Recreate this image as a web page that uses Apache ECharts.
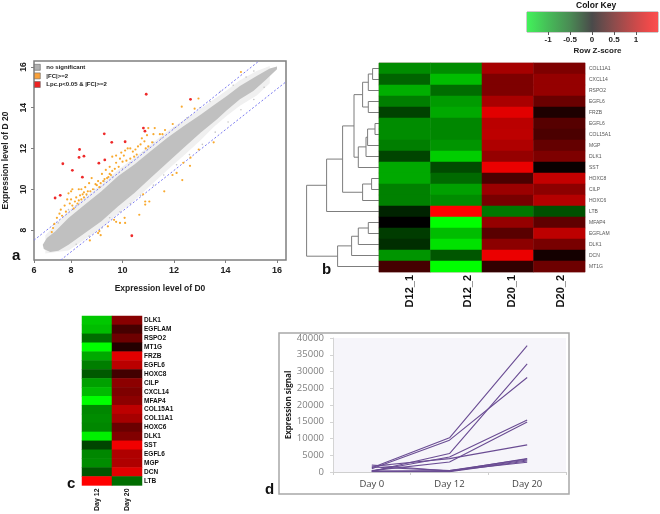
<!DOCTYPE html>
<html><head><meta charset="utf-8">
<style>html,body{margin:0;padding:0;background:#fff}#c{width:660px;height:514px;filter:blur(0.45px)}</style>
<script src="https://cdn.jsdelivr.net/npm/echarts@6/dist/echarts.min.js"></script>
</head><body><div id="c"></div>
<script>
// ---------- panel a : scatter ----------
const denseUpper = [[6.90,7.28],[7.06,7.61],[7.38,7.93],[7.90,8.59],[8.54,9.25],[9.18,9.90],[9.82,10.64],[10.46,11.21],[11.10,11.87],[11.74,12.52],[12.38,13.10],[13.03,13.65],[13.54,14.12],[14.05,14.57],[14.56,15.07],[15.21,15.56],[15.72,15.92],[16.0,16.02]];
const denseLower = [[16.0,15.89],[15.59,15.39],[15.08,14.82],[14.56,14.41],[14.05,13.88],[13.67,13.43],[13.03,12.77],[12.38,12.03],[11.74,11.30],[11.10,10.56],[10.46,9.82],[9.82,9.16],[9.18,8.43],[8.54,7.85],[7.90,7.28],[7.51,6.98],[7.19,6.92],[6.94,7.07]];
const fringeUpper = [[7.0,7.75],[7.9,8.95],[8.54,9.6],[9.18,10.25],[9.82,10.95],[10.46,11.55],[11.1,12.2],[11.74,12.85],[12.38,13.4],[13.03,13.95],[13.54,14.4],[14.05,14.85],[14.56,15.35],[15.21,15.8],[15.72,16.05]];
const fringeLower = [[15.72,15.2],[15.21,14.6],[14.56,14.1],[14.05,13.6],[13.54,13.05],[13.03,12.4],[12.38,11.65],[11.74,10.95],[11.1,10.2],[10.46,9.45],[9.82,8.8],[9.18,8.1],[8.54,7.55],[7.9,7.0],[7.0,6.85]];
const grayOutliers = [[7.5,8.35],[7.9,9.0],[8.2,9.2],[8.6,9.7],[8.9,10.0],[9.3,10.4],[9.6,10.6],[10.0,11.0],[10.3,11.3],[10.8,11.8],[11.2,12.3],[11.5,12.5],[12.0,13.0],[12.5,13.5],[13.0,14.0],[13.4,14.3],[13.8,14.8],[14.3,15.1],[14.8,15.5],[15.1,15.8],[8.2,7.3],[8.7,7.7],[9.2,8.1],[9.5,8.6],[9.9,8.9],[10.3,9.3],[10.7,9.7],[11.2,10.2],[11.6,10.7],[12.1,11.2],[12.6,11.7],[13.1,12.2],[13.6,12.8],[14.1,13.3],[14.6,13.9],[15.1,14.4],[15.5,15.0]];
const upperGuide = [[6.56,7.5],[15.3,16.29]];
const lowerGuide = [[7.6,6.53],[16.35,15.27]];
const orangePoints = [[7.25,7.9],[7.3,8.1],[7.35,8.3],[7.45,8.6],[7.55,8.8],[7.6,9.0],[7.65,8.7],[7.75,9.2],[7.8,8.9],[7.85,9.5],[7.9,9.8],[7.95,9.3],[8.0,9.5],[8.0,9.9],[8.05,9.2],[8.05,10.0],[8.1,9.05],[8.15,9.4],[8.2,9.6],[8.25,9.3],[8.3,9.45],[8.3,10.0],[8.35,9.7],[8.4,9.5],[8.4,10.0],[8.45,9.75],[8.5,9.6],[8.5,9.85],[8.55,10.1],[8.6,9.75],[8.65,9.9],[8.7,10.3],[8.75,9.9],[8.8,10.55],[8.85,10.0],[8.95,10.25],[9.0,10.2],[9.05,10.4],[9.1,10.1],[9.15,10.3],[9.2,10.75],[9.25,10.4],[9.3,10.5],[9.35,10.95],[9.4,10.55],[9.45,10.6],[9.5,10.75],[9.5,11.1],[9.55,10.7],[9.6,10.9],[9.6,11.6],[9.7,11.0],[9.75,11.3],[9.75,11.65],[9.85,11.1],[9.9,11.5],[9.95,11.8],[10.0,11.35],[10.05,11.65],[10.1,11.9],[10.15,11.4],[10.2,12.0],[10.3,12.0],[10.3,11.5],[10.4,11.85],[10.45,11.6],[10.5,11.95],[10.55,11.7],[10.6,12.1],[10.7,12.2],[10.75,12.5],[10.85,12.35],[10.9,12.0],[10.95,12.65],[11.0,12.1],[11.0,13.0],[11.15,12.3],[11.2,12.7],[11.25,13.0],[11.45,12.7],[11.55,12.7],[11.65,12.9],[11.95,13.2],[12.3,14.05],[12.8,13.95],[12.95,14.45],[14.6,15.75],[8.73,7.49],[9.05,7.85],[9.1,7.95],[9.15,7.75],[9.43,8.18],[9.67,8.5],[9.75,8.4],[9.9,8.35],[10.08,8.6],[10.1,8.35],[10.65,8.75],[10.88,9.4],[10.88,9.25],[11.04,9.4],[10.8,9.75],[11.62,9.9],[11.94,10.7],[12.1,10.8],[12.32,10.45],[12.36,11.3],[12.62,11.15],[12.64,11.55],[12.96,11.95],[13.54,12.3]];
const redPoints = [[7.38,9.57],[7.58,9.70],[7.68,11.25],[8.05,10.93],[8.33,11.95],[8.31,11.56],[8.50,11.62],[8.44,10.59],[9.08,11.28],[9.31,11.44],[9.29,12.72],[9.58,12.30],[10.10,12.33],[10.36,7.72],[10.81,13.0],[10.87,12.85],[10.92,14.66],[12.64,14.41]];
const scatterNames = ['no significant','|FC|>=2','Lpc.p<0.05 & |FC|>=2'];
const xTicksA = [6.56,8,10,12,14,16];
const yTicksA = [8,10,12,14,16];

// ---------- panel b : heat map with dendrogram ----------
const genesB = ['COL11A1','CXCL14','RSPO2','EGFL6','FRZB','EGFL6','COL15A1','MGP','DLK1','SST','HOXC8','CILP','HOXC6','LTB','MFAP4','EGFLAM','DLK1','DCN','MT1G'];
const samplesB = ['D12_1','D12_2','D20_1','D20_2'];
const d12_1 = [-.77,-.55,-.96,-.69,-.36,-.77,-.77,-.69,-.38,-.93,-.93,-.71,-.71,-.19,0,-.33,-.25,-.82,.38];
const d12_2 = [-.77,-1.04,-.60,-.85,-.93,-.74,-.74,-.82,-1.13,-.41,-.58,-.88,-.77,1.40,-1.40,-1.04,-1.24,-.47,-1.40];
const d20_1 = [.91,.69,.69,.93,1.24,1.02,1.04,.96,.82,1.29,.41,.85,.66,-.66,.82,.49,.77,1.29,.27];
const d20_2 = [.69,.82,.82,.58,.16,.47,.41,.55,.69,.05,1.07,.77,.99,-.44,.52,1.04,.66,.11,.60];
// [left child, right child, merge height]; numbers are rows, 'mN' are earlier merges
const dendroMerges = [[0,1,6.7],['m0',2,11],[3,4,11],['m1','m2',16.7],[5,6,4.3],['m4',7,11.7],['m5',8,13.3],['m6',9,21],['m3','m7',25.3],[10,11,7.7],['m9',12,16.7],['m8','m10',36.7],['m11',13,52.7],[14,15,11],['m13',16,21],['m14',17,27.7],['m15',18,41.7],['m12','m16',72.7]];

// ---------- colour key ----------
const keyStops = [[-1.48,'#42f25a'],[-1,'#46bc58'],[-0.5,'#4a8a54'],[0,'#4a4a4a'],[0.5,'#8c4c4c'],[1,'#cc4a4a'],[1.3,'#ee4a4a'],[1.5,'#fa5050']];
const keyTicks = [-1,-0.5,0,0.5,1];

// ---------- panel c : two column heat map ----------
const genesC = ['DLK1','EGFLAM','RSPO2','MT1G','FRZB','EGFL6','HOXC8','CILP','CXCL14','MFAP4','COL15A1','COL11A1','HOXC6','DLK1','SST','EGFL6','MGP','DCN','LTB'];
const daysC = ['Day 12','Day 20'];
const day12 = [-1.10,-1.04,-.60,-1.40,-.93,-.69,-.49,-.88,-1.02,-1.40,-.74,-.77,-.74,-1.32,-.38,-.74,-.77,-.47,1.40];
const day20 = [.74,.38,.60,.19,1.24,1.02,.36,.77,.69,.77,1.04,.91,.58,.71,1.32,.96,.96,1.24,-.60];

// ---------- panel d : line chart ----------
const daysD = ['Day 0','Day 12','Day 20'];
const signalLines = [[1300,10200,37700],[1000,9500,28200],[200,5500,32300],[300,4500,15500],[400,3000,14900],[1700,4000,8100],[2100,300,4000],[1500,400,3900],[300,200,3600],[200,400,2900],[100,100,3300]];

const boldFont = '"Liberation Sans"';
const labelColor = '#222';

const polygon = (pts, color) => (p, api) => ({
  type:'polygon', shape:{points:pts.map(q=>api.coord(q))}, style:{fill:color}
});
const nodeY = i => typeof i === 'number' ? i + 0.5 : mergeY[+i.slice(1)];
const nodeH = i => typeof i === 'number' ? 0 : dendroMerges[+i.slice(1)][2];
const mergeY = [];
dendroMerges.forEach((m,i)=>{ mergeY[i] = (nodeY(m[0])+nodeY(m[1]))/2; });

const heatData = cols => cols.flatMap((col,c)=>col.map((v,r)=>[c,r,v]));
const noEmphasis = {disabled:true};
const hiddenAxis = {show:false};

const chart = echarts.init(document.getElementById('c'));
chart.setOption({
  animation:false,
  grid:[
    {left:32,top:61,width:254,height:199,show:true,borderColor:'#7f7f7f',borderWidth:1.5,backgroundColor:'#fff'},
    {left:379,top:63,width:206,height:209,show:true,borderColor:'#c9a9a9',borderWidth:1},
    {left:306.6,top:63,width:72.7,height:209},
    {left:527,top:12,width:131,height:20,show:true,borderColor:'#999',borderWidth:1},
    {left:82,top:316,width:60,height:172},
    {left:333,top:338,width:233,height:134,show:true,backgroundColor:'#f6f5fa',borderWidth:0}
  ],
  legend:{
    orient:'vertical',left:34,top:64,itemWidth:6,itemHeight:6,itemGap:2,padding:0,selectedMode:false,
    textStyle:{fontFamily:boldFont,fontWeight:'bold',fontSize:6,color:'#222',padding:[0,0,0,1]},
    data:[
      {name:scatterNames[0],icon:'rect',itemStyle:{color:'#b0b0b0',borderColor:'#666',borderWidth:.6}},
      {name:scatterNames[1],icon:'rect',itemStyle:{color:'#f9a13a',borderColor:'#666',borderWidth:.6}},
      {name:scatterNames[2],icon:'rect',itemStyle:{color:'#ee2222',borderColor:'#666',borderWidth:.6}}
    ]
  },
  visualMap:[{type:'continuous',show:false,min:-1.4,max:1.4,seriesIndex:[8,9],inRange:{color:['#00ff00','#000000','#ff0000']}}],
  xAxis:[
    {gridIndex:0,type:'value',min:6.56,max:16.35,splitLine:{show:false},
     name:'Expression level of D0',nameLocation:'middle',nameGap:24,
     nameTextStyle:{fontFamily:boldFont,fontWeight:'bold',fontSize:8.5,color:labelColor},
     axisLine:{show:false},
     axisTick:{show:true,length:3,customValues:xTicksA,lineStyle:{color:'#7f7f7f'}},
     axisLabel:{customValues:xTicksA,margin:6,fontFamily:boldFont,fontWeight:'bold',fontSize:9,color:labelColor,
       formatter:v=>v<8?'6':String(v)}},
    {gridIndex:1,type:'category',data:samplesB,position:'bottom',axisLine:{show:false},axisTick:{show:false},
     axisLabel:{rotate:90,margin:3,interval:0,fontFamily:boldFont,fontWeight:'bold',color:'#111',
       formatter:(v,i)=>'{s'+i+'|'+v+'}',
       rich:{s0:{fontSize:11,fontWeight:'bold',padding:[10,0,0,0]},s1:{fontSize:11,fontWeight:'bold',padding:[24,0,0,0]},
             s2:{fontSize:11,fontWeight:'bold',padding:[8,0,0,0]},s3:{fontSize:11,fontWeight:'bold',padding:[4,0,0,0]}}}},
    {gridIndex:2,type:'value',min:0,max:72.7,inverse:true,...hiddenAxis},
    {gridIndex:3,type:'value',min:-1.48,max:1.5,splitLine:{show:false},
     name:'Row Z-score',nameLocation:'middle',nameGap:15,nameTextStyle:{fontFamily:boldFont,fontWeight:'bold',fontSize:8,color:labelColor,padding:[0,0,0,10]},
     axisLine:{show:false},
     axisTick:{show:true,length:3,customValues:keyTicks,lineStyle:{color:'#555'}},
     axisLabel:{customValues:keyTicks,margin:4,fontFamily:boldFont,fontWeight:'bold',fontSize:8,color:labelColor,
       formatter:v=>String(v)}},
    {gridIndex:4,type:'category',data:daysC,position:'bottom',axisLine:{show:false},axisTick:{show:false},
     axisLabel:{rotate:90,margin:3,interval:0,fontFamily:boldFont,fontWeight:'bold',fontSize:7,color:'#111'}},
    {gridIndex:5,type:'category',data:daysD,boundaryGap:true,
     axisLine:{lineStyle:{color:'#cfcfcf'}},axisTick:{show:true,length:3,alignWithLabel:false,lineStyle:{color:'#cfcfcf'}},
     axisLabel:{margin:7,fontFamily:'"Open Sans"',fontSize:9.5,color:'#444'}}
  ],
  yAxis:[
    {gridIndex:0,type:'value',min:6.53,max:16.29,splitLine:{show:false},
     name:'Expression level of D 20',nameLocation:'middle',nameGap:24,
     nameTextStyle:{fontFamily:boldFont,fontWeight:'bold',fontSize:8.5,color:labelColor},
     axisLine:{show:false},
     axisTick:{show:true,length:3,customValues:yTicksA,lineStyle:{color:'#7f7f7f'}},
     axisLabel:{customValues:yTicksA,rotate:90,margin:6,fontFamily:boldFont,fontWeight:'bold',fontSize:8.5,color:labelColor,align:'center',
       formatter:v=>String(v)}},
    {gridIndex:1,type:'category',data:genesB,inverse:true,position:'right',axisLine:{show:false},axisTick:{show:false},
     axisLabel:{interval:0,margin:4,fontFamily:boldFont,fontSize:5,color:'#555'}},
    {gridIndex:2,type:'value',min:0,max:19,inverse:true,...hiddenAxis},
    {gridIndex:3,type:'value',min:0,max:1,...hiddenAxis},
    {gridIndex:4,type:'category',data:genesC,inverse:true,position:'right',axisLine:{show:false},axisTick:{show:false},
     axisLabel:{interval:0,margin:2,fontFamily:boldFont,fontWeight:'bold',fontSize:6.5,color:'#111'}},
    {gridIndex:5,type:'value',min:0,max:40000,interval:5000,splitLine:{show:false},
     name:'Expression signal',nameLocation:'middle',nameGap:38,
     nameTextStyle:{fontFamily:'"Open Sans"',fontWeight:'bold',fontSize:8,color:'#222'},
     axisLine:{show:true,lineStyle:{color:'#d4d4d4'}},axisTick:{show:true,length:3,lineStyle:{color:'#d4d4d4'}},
     axisLabel:{margin:9,fontFamily:'"Open Sans"',fontSize:9.5,color:'#808080',formatter:v=>String(v)}}
  ],
  series:[
    {type:'custom',xAxisIndex:0,yAxisIndex:0,data:[[8,8]],silent:true,clip:true,z:1,
     renderItem:polygon(fringeUpper.concat(fringeLower),'#f0f0f0')},
    {type:'custom',name:scatterNames[0],xAxisIndex:0,yAxisIndex:0,data:[[8,8]],silent:true,clip:true,z:2,
     itemStyle:{color:'#b9b9b9'},renderItem:polygon(denseUpper.concat(denseLower),'#c0c0c0')},
    {type:'scatter',xAxisIndex:0,yAxisIndex:0,data:grayOutliers,symbolSize:1.6,silent:true,z:2,itemStyle:{color:'#c4c4c4',opacity:1}},
    {type:'line',xAxisIndex:0,yAxisIndex:0,data:upperGuide,showSymbol:false,silent:true,z:3,lineStyle:{color:'#7a7af0',width:1,type:[2,2]}},
    {type:'line',xAxisIndex:0,yAxisIndex:0,data:lowerGuide,showSymbol:false,silent:true,z:3,lineStyle:{color:'#7a7af0',width:1,type:[2,2]}},
    {type:'scatter',name:scatterNames[1],xAxisIndex:0,yAxisIndex:0,data:orangePoints,symbolSize:2.2,silent:true,z:4,itemStyle:{color:'#f8a92e',opacity:1}},
    {type:'scatter',name:scatterNames[2],xAxisIndex:0,yAxisIndex:0,data:redPoints,symbolSize:2.8,silent:true,z:5,itemStyle:{color:'#ee2a2a',opacity:1}},
    {type:'custom',xAxisIndex:2,yAxisIndex:2,data:dendroMerges.map((m,i)=>[m[2],mergeY[i]]),silent:true,
     renderItem:(p,api)=>{
       const m=dendroMerges[p.dataIndex];
       const pts=[[nodeH(m[0]),nodeY(m[0])],[m[2],nodeY(m[0])],[m[2],nodeY(m[1])],[nodeH(m[1]),nodeY(m[1])]].map(q=>api.coord(q));
       return {type:'polyline',shape:{points:pts},style:{stroke:'#7d7d7d',fill:'none',lineWidth:1}};
     }},
    {type:'heatmap',xAxisIndex:1,yAxisIndex:1,data:heatData([d12_1,d12_2,d20_1,d20_2]),emphasis:noEmphasis,silent:true},
    {type:'heatmap',xAxisIndex:4,yAxisIndex:4,data:heatData([day12,day20]),emphasis:noEmphasis,silent:true},
    {type:'custom',xAxisIndex:3,yAxisIndex:3,data:[[0,0]],silent:true,clip:true,
     renderItem:(p,api)=>{
       const a=api.coord([keyStops[0][0],1]), b=api.coord([keyStops[keyStops.length-1][0],0]);
       const span=keyStops[keyStops.length-1][0]-keyStops[0][0];
       return {type:'rect',shape:{x:a[0],y:a[1],width:b[0]-a[0],height:b[1]-a[1]},
         style:{fill:new echarts.graphic.LinearGradient(0,0,1,0,keyStops.map(s=>({offset:(s[0]-keyStops[0][0])/span,color:s[1]})))}};
     }},
    ...signalLines.map(values=>({type:'line',xAxisIndex:5,yAxisIndex:5,data:values,showSymbol:false,silent:true,
      lineStyle:{color:'#6a4c93',width:1.1}}))
  ],
  graphic:[
    {type:'rect',shape:{x:279,y:333,width:290,height:161},style:{stroke:'#a8a8a8',fill:'none',lineWidth:1.5},silent:true,z:-1},
    {type:'text',left:576,top:1,style:{text:'Color Key',font:'bold 8.5px "Liberation Sans"',fill:'#111'},silent:true},
    {type:'text',left:12,top:248,style:{text:'a',font:'bold 15px "Liberation Sans"',fill:'#111'},silent:true},
    {type:'text',left:322,top:262,style:{text:'b',font:'bold 15px "Liberation Sans"',fill:'#111'},silent:true},
    {type:'text',left:67,top:476,style:{text:'c',font:'bold 15px "Liberation Sans"',fill:'#111'},silent:true},
    {type:'text',left:265,top:482,style:{text:'d',font:'bold 15px "Liberation Sans"',fill:'#111'},silent:true}
  ]
});
</script></body></html>
